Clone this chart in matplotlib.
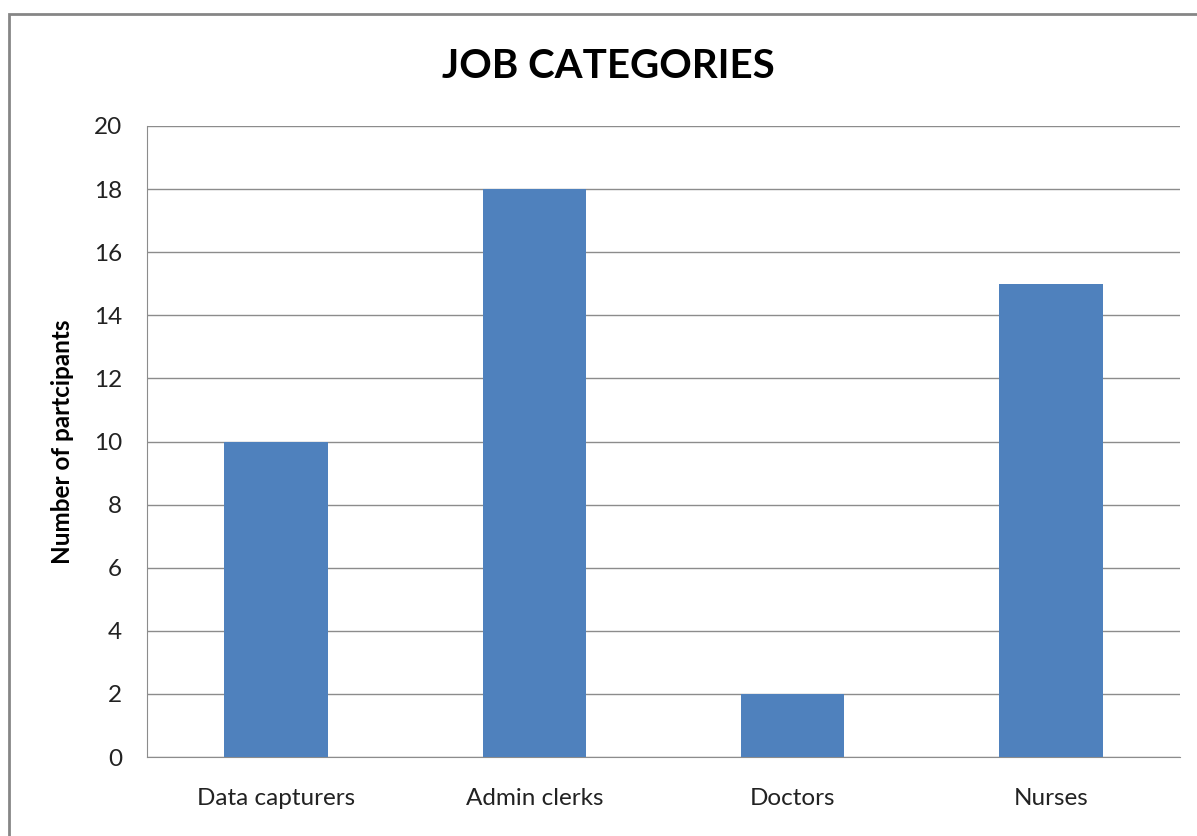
import matplotlib.pyplot as plt
from matplotlib.patches import Rectangle

categories = ['Data capturers', 'Admin clerks', 'Doctors', 'Nurses']
participants = [10, 18, 2, 15]
yticks = [0, 2, 4, 6, 8, 10, 12, 14, 16, 18, 20]

plt.rcParams['font.family'] = ['Lato', 'DejaVu Sans']

fig = plt.figure(figsize=(11.97, 8.36), dpi=100)
# outer chart border
fig.patches.append(Rectangle((9/1197, -0.05), 1.1, 1 - 14/836 + 0.05, transform=fig.transFigure,
                             fill=False, edgecolor='#868686', linewidth=2))

ax = fig.add_axes([147/1197, 1 - 757/836, (1180 - 147)/1197, (757 - 126)/836])
x = range(len(categories))
ax.bar(x, participants, width=0.4, color='#4F81BD', zorder=3)
ax.set_xlim(-0.5, len(categories) - 0.5)
ax.set_ylim(0, 20)
ax.set_yticks(yticks)
ax.set_xticks(list(x))
ax.set_xticklabels(categories)
ax.tick_params(length=0, labelsize=17.5, colors='#222222', pad=18)
ax.tick_params(axis='x', pad=22)
ax.yaxis.grid(True, color='#8c8c8c', linewidth=1, zorder=0)
for s in ['top', 'right']:
    ax.spines[s].set_visible(False)
for s in ['left', 'bottom']:
    ax.spines[s].set_color('#8c8c8c')
ax.set_ylabel('Number of partcipants', fontsize=17.5, fontweight='bold', labelpad=14)
fig.text(608/1197, 1 - 67/836, 'JOB CATEGORIES', ha='center', va='center',
         fontsize=29, fontweight='bold')

fig.savefig('out.png', dpi=100)
